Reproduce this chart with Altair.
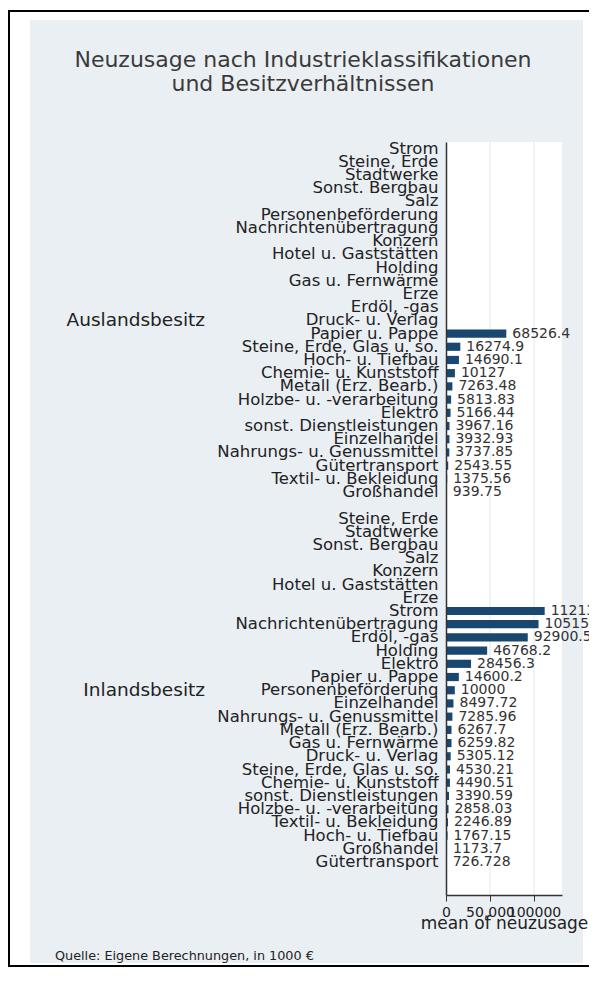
import altair as alt
import pandas as pd

TITLE_LINES = ["Neuzusage nach Industrieklassifikationen", "und Besitzverhältnissen"]
NOTE = "Quelle: Eigene Berechnungen, in 1000 €"
X_TITLE = "mean of neuzusage"
GROUPS = ["Auslandsbesitz", "Inlandsbesitz"]
X_TICKS = [0, 50000, 100000]
GRID_TICKS = [50000, 100000]

AUS_CATS = ["Strom", "Steine, Erde", "Stadtwerke", "Sonst. Bergbau", "Salz",
            "Personenbeförderung", "Nachrichtenübertragung", "Konzern",
            "Hotel u. Gaststätten", "Holding", "Gas u. Fernwärme", "Erze",
            "Erdöl, -gas", "Druck- u. Verlag", "Papier u. Pappe",
            "Steine, Erde, Glas u. so.", "Hoch- u. Tiefbau", "Chemie- u. Kunststoff",
            "Metall (Erz. Bearb.)", "Holzbe- u. -verarbeitung", "Elektro",
            "sonst. Dienstleistungen", "Einzelhandel", "Nahrungs- u. Genussmittel",
            "Gütertransport", "Textil- u. Bekleidung", "Großhandel"]
AUS_VALS = [None, None, None, None, None, None, None, None, None, None, None, None,
            None, None, 68526.4, 16274.9, 14690.1, 10127, 7263.48, 5813.83, 5166.44,
            3967.16, 3932.93, 3737.85, 2543.55, 1375.56, 939.75]

INL_CATS = ["Steine, Erde", "Stadtwerke", "Sonst. Bergbau", "Salz", "Konzern",
            "Hotel u. Gaststätten", "Erze", "Strom", "Nachrichtenübertragung",
            "Erdöl, -gas", "Holding", "Elektro", "Papier u. Pappe",
            "Personenbeförderung", "Einzelhandel", "Nahrungs- u. Genussmittel",
            "Metall (Erz. Bearb.)", "Gas u. Fernwärme", "Druck- u. Verlag",
            "Steine, Erde, Glas u. so.", "Chemie- u. Kunststoff",
            "sonst. Dienstleistungen", "Holzbe- u. -verarbeitung",
            "Textil- u. Bekleidung", "Hoch- u. Tiefbau", "Großhandel", "Gütertransport"]
INL_VALS = [None, None, None, None, None, None, None, 112134, 105152, 92900.5,
            46768.2, 28456.3, 14600.2, 10000, 8497.72, 7285.96, 6267.7, 6259.82,
            5305.12, 4530.21, 4490.51, 3390.59, 2858.03, 2246.89, 1767.15, 1173.7,
            726.728]

FONT = "DejaVu Sans"
BAR_COLOR = "#1a476f"
PANEL = "#eaeff4"
W, H = 116, 753

rows = []
domain = []
group_mid = []
for gi, (g, cats, vals) in enumerate([(GROUPS[0], AUS_CATS, AUS_VALS), (GROUPS[1], INL_CATS, INL_VALS)]):
    keys = [f"{g}|{c}" for c in cats]
    for k, c, v in zip(keys, cats, vals):
        rows.append({"key": k, "cat": c, "value": v, "group": g})
    domain += keys
    group_mid.append({"grp": g, "key": keys[len(keys) // 2]})
    if gi == 0:
        domain.append("~gap")
domain += ["~end1", "~end2"]
df = pd.DataFrame(rows)

y_enc = alt.Y(
    "key:N",
    scale=alt.Scale(domain=domain, paddingInner=0.38, paddingOuter=0.19),
    axis=alt.Axis(
        title=None, ticks=False,
        labelExpr="indexof(datum.value, '|') >= 0 ? split(datum.value, '|')[1] : ''",
        labelFont=FONT, labelFontSize=16.5, labelColor="#222", labelPadding=8,
        labelLimit=400, labelOverlap=False, labelBound=False,
        domainColor="#333", domainWidth=1.5, zindex=1,
    ),
)
x_enc = alt.X(
    "value:Q",
    scale=alt.Scale(domain=[0, 131800], nice=False, zero=True),
    axis=alt.Axis(
        values=X_TICKS, title=X_TITLE, grid=False,
        labelExpr="datum.value >= 100000 ? format(datum.value, 'd') : format(datum.value, ',')",
        labelFont=FONT, labelFontSize=14, labelColor="#222", labelOverlap=False,
        labelFlush=False, labelPadding=4, tickSize=6, tickColor="#333",
        domainColor="#333", domainWidth=1.5,
        titleFont=FONT, titleFontSize=17, titleFontWeight="normal", titleColor="#222",
        titlePadding=-4, zindex=1,
    ),
)

one = alt.Data(values=[{"d": 0}])

border = alt.Chart(one).mark_rect(fillOpacity=0, stroke="black", strokeWidth=2).encode(
    x=alt.value(-437), x2=alt.value(300), y=alt.value(-131), y2=alt.value(824))
panel = alt.Chart(one).mark_rect(fill=PANEL).encode(
    x=alt.value(-416), x2=alt.value(137), y=alt.value(-122), y2=alt.value(821))
plotbg = alt.Chart(one).mark_rect(fill="white").encode(
    x=alt.value(0), x2=alt.value(W), y=alt.value(0), y2=alt.value(H))

grid = alt.Chart(pd.DataFrame({"value": GRID_TICKS})).mark_rule(
    color="#edf1f5", strokeWidth=1.5).encode(x=x_enc)

bars = alt.Chart(df).mark_bar(color=BAR_COLOR).encode(x=x_enc, y=y_enc)

labels = alt.Chart(df).transform_filter("datum.value != null").mark_text(
    align="left", baseline="middle", dx=6, font=FONT, fontSize=14, color="#333"
).encode(x=x_enc, y=y_enc, text=alt.Text("value:Q", format=".6~g"))

grp_labels = alt.Chart(alt.Data(values=group_mid)).mark_text(
    align="right", baseline="middle", font=FONT, fontSize=18.5, color="#222"
).encode(x=alt.value(-241), y=y_enc, text="grp:N")

title = alt.Chart(one).mark_text(
    text=TITLE_LINES, lineHeight=24, font=FONT, fontSize=22, color="#3a3a3a",
    align="center", baseline="middle"
).encode(x=alt.value(-143), y=alt.value(-82))

note = alt.Chart(one).mark_text(
    text=NOTE, align="left", baseline="middle", font=FONT, fontSize=12.8, color="#222"
).encode(x=alt.value(-391), y=alt.value(814))

chart = alt.layer(border, panel, plotbg, grid, bars, labels, grp_labels, title, note).properties(
    width=W, height=H,
    autosize=alt.AutoSizeParams(type="none"),
    padding={"left": 438, "top": 134, "right": 27, "bottom": 73},
    background="white",
).configure_view(strokeWidth=0)

chart.save("out.html", embed_options={"renderer": "svg", "actions": False})
